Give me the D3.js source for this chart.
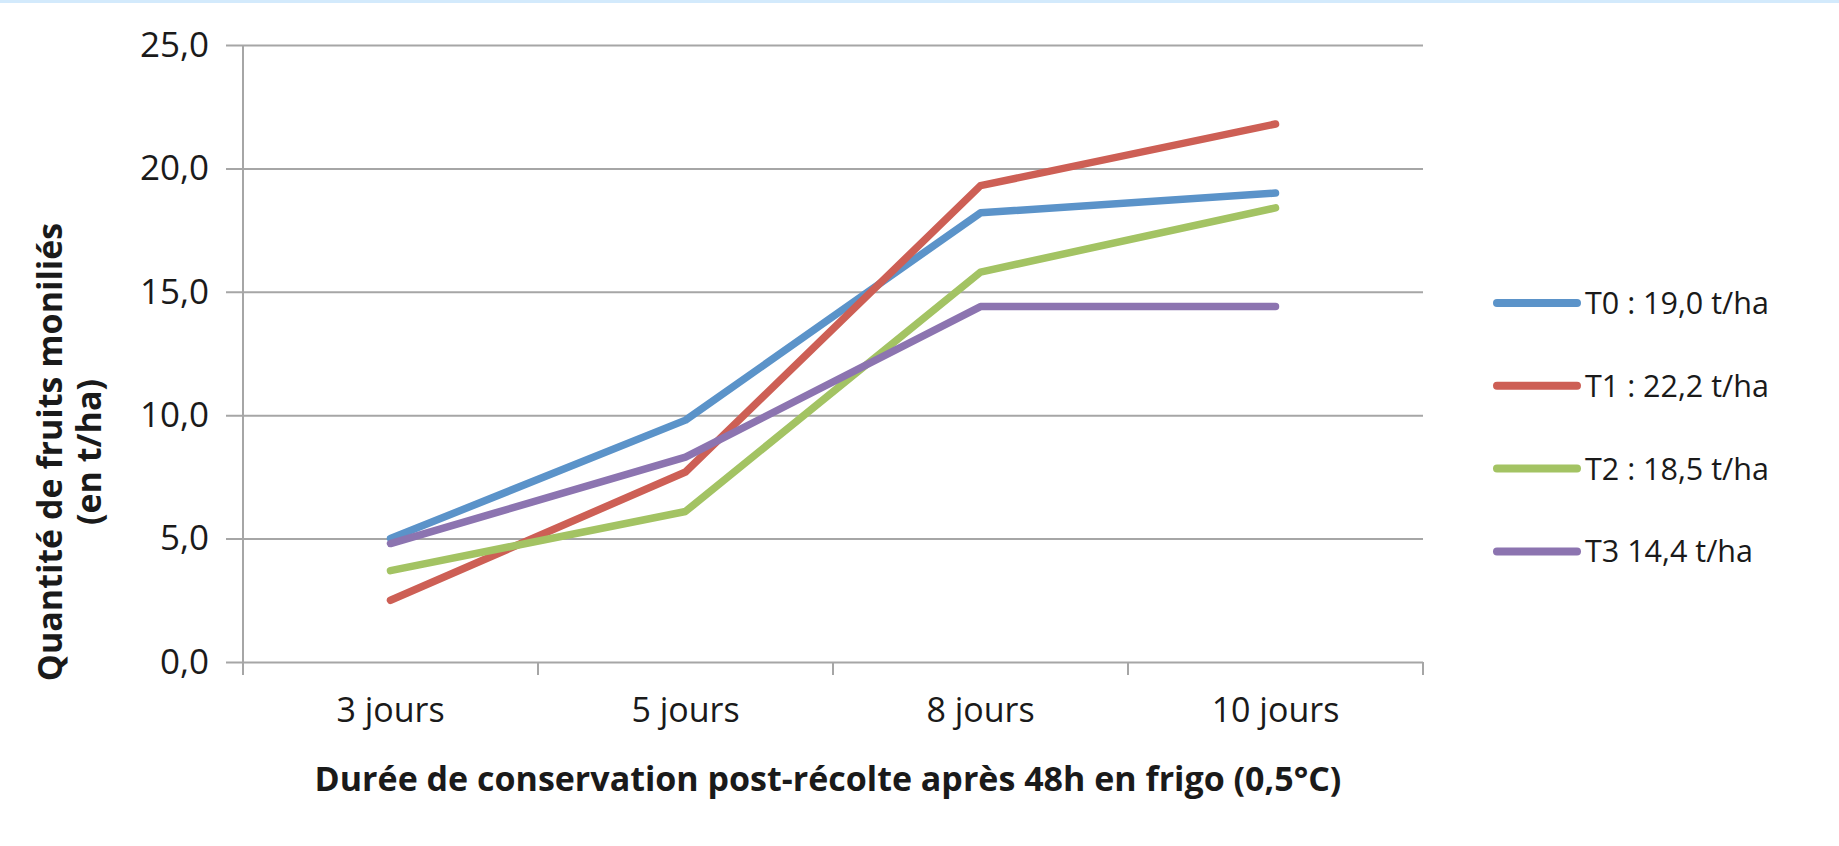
<!DOCTYPE html>
<html>
<head>
<meta charset="utf-8">
<script src="https://cdn.jsdelivr.net/npm/d3@7"></script>
<style>
  html, body { margin: 0; padding: 0; background: #fff; }
  svg { display: block; }
  text { font-family: "Open Sans", "Noto Sans", sans-serif; fill: #1a1a1a; }
</style>
</head>
<body>
<svg id="chart" width="1839" height="846"></svg>
<script>
// Durées de conservation (catégories de l'axe X)
const categories = ["3 jours", "5 jours", "8 jours", "10 jours"];
// Quantité de fruits moniliés (t/ha) par traitement
const t0 = [5.0, 9.8, 18.2, 19.0];
const t1 = [2.5, 7.7, 19.3, 21.8];
const t2 = [3.7, 6.1, 15.8, 18.4];
const t3 = [4.8, 8.3, 14.4, 14.4];
const seriesNames = ["T0 : 19,0 t/ha", "T1 : 22,2 t/ha", "T2 : 18,5 t/ha", "T3 14,4 t/ha"];
const seriesColors = ["#5b93c9", "#cd5f55", "#a3c363", "#8c74b0"];
const yTicks = [0, 5, 10, 15, 20, 25];

const series = [t0, t1, t2, t3].map((values, i) => ({
  name: seriesNames[i], color: seriesColors[i], values
}));

const svg = d3.select("#chart");

// bordure supérieure
svg.append("rect").attr("x", 0).attr("y", 0).attr("width", 1839).attr("height", 3)
  .attr("fill", "#d3eafc");

const plotLeft = 243, plotRight = 1423, plotTop = 45, plotBottom = 662;

const x = d3.scaleBand().domain(categories).range([plotLeft, plotRight]).padding(0);
const y = d3.scaleLinear().domain([0, 25]).range([plotBottom, plotTop]);
const fmt = v => d3.format(".1f")(v).replace(".", ",");

// quadrillage horizontal + graduations de l'axe Y
const yAxis = d3.axisLeft(y).tickValues(yTicks).tickFormat(fmt)
  .tickSize(-(plotRight - plotLeft)).tickPadding(34);
const gy = svg.append("g").attr("transform", `translate(${plotLeft},0)`).call(yAxis);
gy.select(".domain").remove();
gy.selectAll(".tick line").attr("x1", -17).attr("stroke", "#a6a6a6").attr("stroke-width", 2);
gy.selectAll(".tick text").attr("font-size", 35).attr("fill", "#1a1a1a")
  .attr("font-family", "'Open Sans', sans-serif");

// axe vertical
svg.append("line").attr("x1", plotLeft).attr("x2", plotLeft).attr("y1", plotTop).attr("y2", plotBottom)
  .attr("stroke", "#a6a6a6").attr("stroke-width", 2);

// axe X : libellés centrés, graduations aux limites des catégories
const xAxis = d3.axisBottom(x).tickSize(0).tickPadding(36);
const gx = svg.append("g").attr("transform", `translate(0,${plotBottom})`).call(xAxis);
gx.select(".domain").remove();
gx.selectAll(".tick text").attr("font-size", 34).attr("fill", "#1a1a1a")
  .attr("font-family", "'Open Sans', sans-serif");
const boundaries = categories.map(c => x(c)).concat([x.range()[1]]);
svg.append("g").selectAll("line").data(boundaries).join("line")
  .attr("x1", d => d).attr("x2", d => d)
  .attr("y1", plotBottom).attr("y2", plotBottom + 13)
  .attr("stroke", "#a6a6a6").attr("stroke-width", 2);

// courbes
const line = d3.line()
  .x((d, i) => x(categories[i]) + x.bandwidth() / 2)
  .y(d => y(d));
svg.append("g").selectAll("path").data(series).join("path")
  .attr("d", d => line(d.values))
  .attr("fill", "none")
  .attr("stroke", d => d.color)
  .attr("stroke-width", 7.5)
  .attr("stroke-linecap", "round")
  .attr("stroke-linejoin", "round");

// légende
const legend = svg.append("g").attr("transform", "translate(1497,303)");
const item = legend.selectAll("g").data(series).join("g")
  .attr("transform", (d, i) => `translate(0,${i * 82.8})`);
item.append("line").attr("x1", 0).attr("x2", 80).attr("y1", 0).attr("y2", 0)
  .attr("stroke", d => d.color).attr("stroke-width", 8).attr("stroke-linecap", "round");
item.append("text").attr("x", 88).attr("y", 0).attr("dy", "0.36em")
  .attr("font-size", 30.5).text(d => d.name);

// titres des axes
svg.append("text").attr("x", 828).attr("y", 791)
  .attr("text-anchor", "middle").attr("font-size", 34).attr("font-weight", "bold")
  .text("Durée de conservation post-récolte après 48h en frigo (0,5°C)");

const yTitle = svg.append("text").attr("transform", "translate(0,452) rotate(-90)")
  .attr("text-anchor", "middle").attr("font-size", 34).attr("font-weight", "bold");
yTitle.append("tspan").attr("x", 0).attr("y", 62).text("Quantité de fruits moniliés");
yTitle.append("tspan").attr("x", 0).attr("y", 101).text("(en t/ha)");
</script>
</body>
</html>
